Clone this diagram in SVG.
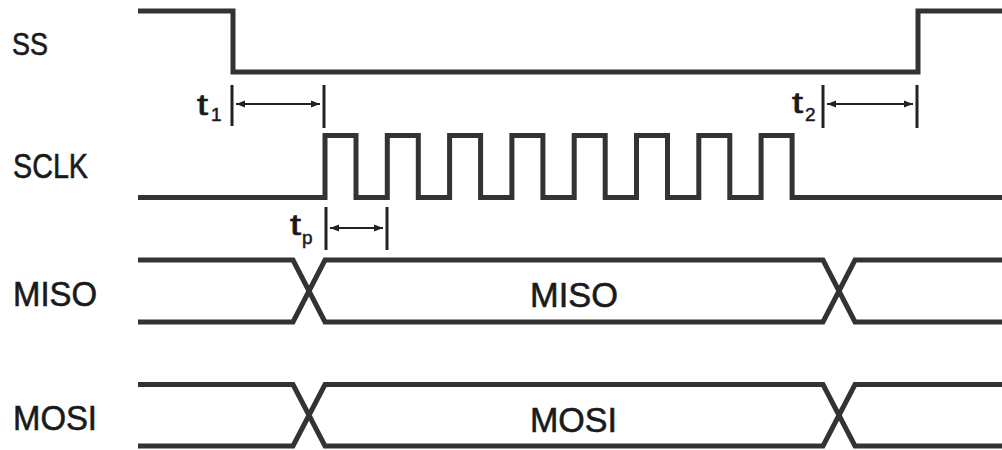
<svg xmlns="http://www.w3.org/2000/svg" width="1002" height="450" viewBox="0 0 1002 450">
  <defs>
    <marker id="ah" viewBox="0 0 10 10" refX="10" refY="5" markerWidth="4.5" markerHeight="4.5" orient="auto-start-reverse" markerUnits="strokeWidth">
      <path d="M0,1 L10,5 L0,9 Z" fill="#222"/>
    </marker>
    <style>
      .sig { fill: none; stroke: #333; stroke-width: 5; stroke-linejoin: miter; }
      .tick { stroke: #222; stroke-width: 3; }
      .arr { stroke: #222; stroke-width: 2; marker-start: url(#ah); marker-end: url(#ah); }
      .lbl { font-family: "Liberation Sans", Arial, sans-serif; fill: #1a1a1a; stroke: #1a1a1a; stroke-width: 0.6; }
      .big { font-size: 35px; }
      .t { font-size: 30px; stroke-width: 0.7; }
      .sub { font-size: 19px; stroke-width: 0.5; }
    </style>
  </defs>
  <rect width="1002" height="450" fill="#fff"/>

  <g id="label-ss"><text class="lbl big" x="12" y="55" textLength="36" lengthAdjust="spacingAndGlyphs" style="font-size:31px">SS</text></g>
  <g id="label-sclk"><text class="lbl big" x="13" y="178" textLength="75" lengthAdjust="spacingAndGlyphs">SCLK</text></g>
  <g id="label-miso"><text class="lbl big" x="13" y="306" textLength="84" lengthAdjust="spacingAndGlyphs">MISO</text></g>
  <g id="label-mosi"><text class="lbl big" x="13" y="430" textLength="84" lengthAdjust="spacingAndGlyphs">MOSI</text></g>

  <g id="signals">
    <path id="ss" class="sig" d="M138,11 H233 V72 H918 V11 H1002"/>
    <path id="sclk" class="sig" d="M138,197.5 H325 V135.5 H356 V197.5 H387.3 V135.5 H418.3 V197.5 H449.6 V135.5 H480.6 V197.5 H511.9 V135.5 H542.9 V197.5 H574.2 V135.5 H605.2 V197.5 H636.5 V135.5 H667.5 V197.5 H698.8 V135.5 H729.8 V197.5 H761.1 V135.5 H792.1 V197.5 H1002"/>
    <path class="sig" d="M138,260 H293 L325,322 H823 L855,260 H1002"/>
    <path class="sig" d="M138,322 H293 L325,260 H823 L855,322 H1002"/>
    <path class="sig" d="M138,384.5 H293 L325,446 H823 L855,384.5 H1002"/>
    <path class="sig" d="M138,446 H293 L325,384.5 H823 L855,446 H1002"/>
  </g>

  <g id="bus-labels">
    <text class="lbl big" x="530" y="307" textLength="88" lengthAdjust="spacingAndGlyphs">MISO</text>
    <text class="lbl big" x="530" y="432" textLength="87" lengthAdjust="spacingAndGlyphs">MOSI</text>
  </g>

  <g id="timing">
    <line class="tick" x1="232" y1="85" x2="232" y2="126"/>
    <line class="tick" x1="324" y1="85" x2="324" y2="128"/>
    <line class="arr" x1="236" y1="104" x2="320" y2="104"/>
    <text class="lbl t" x="197" y="115" textLength="11" lengthAdjust="spacingAndGlyphs">t</text>
    <text class="lbl sub" x="211" y="121">1</text>

    <line class="tick" x1="823" y1="85" x2="823" y2="128"/>
    <line class="tick" x1="917" y1="85" x2="917" y2="128"/>
    <line class="arr" x1="827" y1="104" x2="913" y2="104"/>
    <text class="lbl t" x="792" y="113" textLength="11" lengthAdjust="spacingAndGlyphs">t</text>
    <text class="lbl sub" x="805" y="121">2</text>

    <line class="tick" x1="326" y1="207" x2="326" y2="250"/>
    <line class="tick" x1="387" y1="207" x2="387" y2="250"/>
    <line class="arr" x1="330" y1="228" x2="383" y2="228"/>
    <text class="lbl t" x="290" y="235" textLength="11" lengthAdjust="spacingAndGlyphs">t</text>
    <text class="lbl sub" x="302" y="244">p</text>
  </g>
</svg>
